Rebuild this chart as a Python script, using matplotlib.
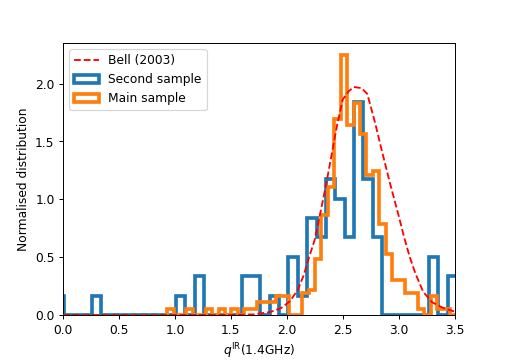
import matplotlib
matplotlib.use("Agg")
import matplotlib.pyplot as plt
import numpy as np

# Bell (2003) curve
bell_q = [0.0, 1.5, 1.7, 1.85, 1.95, 2.03, 2.1, 2.15, 2.2, 2.25, 2.3, 2.36, 2.4,
          2.45, 2.5, 2.55, 2.6, 2.67, 2.72, 2.79, 2.85, 2.92, 3.0, 3.05, 3.1,
          3.15, 3.22, 3.3, 3.4, 3.5]
bell_y = [0.0, 0.0, 0.005, 0.025, 0.06, 0.12, 0.22, 0.34, 0.5, 0.65, 0.88, 1.17, 1.38,
          1.64, 1.86, 1.93, 1.97, 1.96, 1.91, 1.66, 1.42, 1.15, 0.86, 0.67, 0.5,
          0.36, 0.2, 0.11, 0.06, 0.03]

# second sample: bin width ~0.084, heights in units of one source
second_w = 0.0838
second_edges = -0.0798 + second_w * np.arange(44)
second_counts = [1, 0, 0, 0, 1, 0, 0, 0, 0, 0, 0, 0, 0, 1, 0, 2, 0, 0, 0, 0,
                 2, 2, 0, 1, 0, 3, 1, 5, 4, 7, 6, 4, 11, 7, 4, 0, 0, 0, 0, 0,
                 3, 0, 2]
second_unit = 0.1676

# main sample: bin width ~0.0575
main_w = 0.0575
main_edges = 0.93 + main_w * np.arange(46)
main_vals = [0.055, 0, 0, 0.055, 0, 0, 0.055, 0, 0.055, 0, 0.055, 0, 0.055, 0.055,
             0.11, 0.11, 0.11, 0.165, 0.165, 0, 0, 0.19, 0.22, 0.48, 0.86, 1.11,
             1.69, 2.25, 1.645, 1.83, 1.56, 1.21, 1.24, 0.79, 0.53, 0.30, 0.30,
             0.19, 0.19, 0.055, 0, 0.165, 0.055, 0.055, 0]

fig = plt.figure(figsize=(505 / 88, 360.2 / 88), dpi=88)
plt.subplots_adjust(left=0.125, right=0.9, top=0.88, bottom=0.125)

plt.plot(bell_q, bell_y, "r--", lw=1.5, label="Bell (2003)", zorder=3)
plt.hist(second_edges[:-1], bins=second_edges,
         weights=np.array(second_counts) * second_unit,
         histtype="step", lw=3, color="C0", label="Second sample")
plt.hist(main_edges[:-1], bins=main_edges, weights=main_vals,
         histtype="step", lw=3, color="C1", label="Main sample")

plt.xlim(0, 3.5)
plt.ylim(0, 2.35)
plt.xlabel(r"$q^{\rm IR}$(1.4GHz)")
plt.ylabel("Normalised distribution")
plt.legend(loc="upper left")

plt.savefig("out.png")
